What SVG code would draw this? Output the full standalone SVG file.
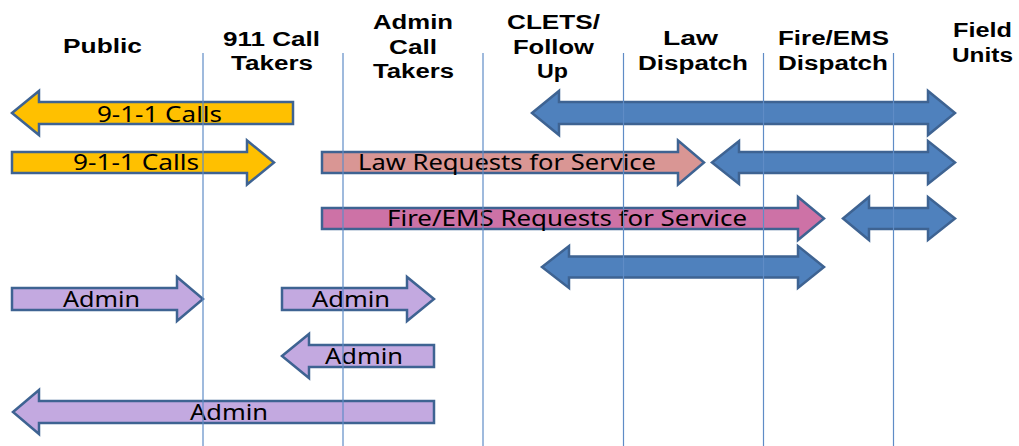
<svg xmlns="http://www.w3.org/2000/svg" width="1019" height="446" viewBox="0 0 1019 446">
<style>
.hdr{font-family:"Liberation Sans",Arial,sans-serif;font-weight:bold;font-size:19.5px;fill:#000;text-anchor:middle}
.lbl{font-family:"Noto Sans","Open Sans",sans-serif;font-size:21px;fill:#000;text-anchor:middle}
.arr{stroke:#3E6392;stroke-width:2.5;stroke-linejoin:miter}
.yel{fill:#FFC000}
.blu{fill:#4F81BD}
.sal{fill:#D99694}
.pnk{fill:#CD72A6}
.lav{fill:#C3A9E0}
.lane{stroke:#5F8CC6;stroke-width:1.2}
</style>
<rect width="1019" height="446" fill="#fff"/>
<g id="headers">
<text class="hdr" x="102.5" y="53" textLength="79" lengthAdjust="spacingAndGlyphs">Public</text>
<text class="hdr" x="271.5" y="46" textLength="97" lengthAdjust="spacingAndGlyphs">911 Call</text>
<text class="hdr" x="272" y="70" textLength="82" lengthAdjust="spacingAndGlyphs">Takers</text>
<text class="hdr" x="413" y="29" textLength="80" lengthAdjust="spacingAndGlyphs">Admin</text>
<text class="hdr" x="413" y="54" textLength="48" lengthAdjust="spacingAndGlyphs">Call</text>
<text class="hdr" x="413.5" y="78" textLength="81" lengthAdjust="spacingAndGlyphs">Takers</text>
<text class="hdr" x="553.5" y="29" textLength="93" lengthAdjust="spacingAndGlyphs">CLETS/</text>
<text class="hdr" x="553.5" y="54" textLength="81" lengthAdjust="spacingAndGlyphs">Follow</text>
<text class="hdr" x="552.5" y="78" textLength="31" lengthAdjust="spacingAndGlyphs">Up</text>
<text class="hdr" x="690.5" y="45" textLength="55" lengthAdjust="spacingAndGlyphs">Law</text>
<text class="hdr" x="693" y="70" textLength="110" lengthAdjust="spacingAndGlyphs">Dispatch</text>
<text class="hdr" x="833.5" y="45" textLength="111" lengthAdjust="spacingAndGlyphs">Fire/EMS</text>
<text class="hdr" x="833" y="70" textLength="110" lengthAdjust="spacingAndGlyphs">Dispatch</text>
<text class="hdr" x="982.5" y="37" textLength="59" lengthAdjust="spacingAndGlyphs">Field</text>
<text class="hdr" x="982.5" y="62" textLength="61" lengthAdjust="spacingAndGlyphs">Units</text>
</g>
<g id="connectors">
<g id="calls-out">
<path class="arr yel" d="M12,113 L39,91 L39,102 L293,102 L293,124 L39,124 L39,135 Z"/>
<text class="lbl" x="159.5" y="122" textLength="125" lengthAdjust="spacingAndGlyphs">9-1-1 Calls</text>
</g>
<path id="clets-field" class="arr blu" d="M532,113 L559,91 L559,102 L928,102 L928,91 L955,113 L928,135 L928,124 L559,124 L559,135 Z"/>
<g id="calls-in">
<path class="arr yel" d="M12,152 L247,152 L247,140.5 L274,162.5 L247,184.5 L247,173 L12,173 Z"/>
<text class="lbl" x="136" y="170" textLength="126" lengthAdjust="spacingAndGlyphs">9-1-1 Calls</text>
</g>
<g id="law-req">
<path class="arr sal" d="M322,152 L678,152 L678,140.5 L704,162.5 L678,184.5 L678,173 L322,173 Z"/>
<text class="lbl" x="507" y="170" textLength="298" lengthAdjust="spacingAndGlyphs">Law Requests for Service</text>
</g>
<path id="law-field" class="arr blu" d="M712,162.5 L739,141 L739,152 L928,152 L928,141 L955,162.5 L928,184 L928,173 L739,173 L739,184 Z"/>
<g id="fire-req">
<path class="arr pnk" d="M322,208 L798,208 L798,197 L824,218.5 L798,240 L798,229 L322,229 Z"/>
<text class="lbl" x="567" y="226" textLength="360" lengthAdjust="spacingAndGlyphs">Fire/EMS Requests for Service</text>
</g>
<path id="fire-field" class="arr blu" d="M843,218.5 L869,197 L869,208 L928,208 L928,197 L955,218.5 L928,240 L928,229 L869,229 L869,240 Z"/>
<path id="clets-fire" class="arr blu" d="M542,267 L569,246 L569,256.5 L798,256.5 L798,246 L824,267 L798,288 L798,277.5 L569,277.5 L569,288 Z"/>
<g id="admin-1">
<path class="arr lav" d="M12,288 L177,288 L177,277 L203,299 L177,321 L177,310 L12,310 Z"/>
<text class="lbl" x="101.5" y="307" textLength="77" lengthAdjust="spacingAndGlyphs">Admin</text>
</g>
<g id="admin-2">
<path class="arr lav" d="M282,288 L407,288 L407,277 L434,299 L407,321 L407,310 L282,310 Z"/>
<text class="lbl" x="351" y="307" textLength="78" lengthAdjust="spacingAndGlyphs">Admin</text>
</g>
<g id="admin-3">
<path class="arr lav" d="M282,356 L309,334 L309,345 L434,345 L434,367 L309,367 L309,378 Z"/>
<text class="lbl" x="364" y="364" textLength="78" lengthAdjust="spacingAndGlyphs">Admin</text>
</g>
<g id="admin-4">
<path class="arr lav" d="M13,412 L39,390 L39,401 L434,401 L434,423 L39,423 L39,434 Z"/>
<text class="lbl" x="229" y="420" textLength="78" lengthAdjust="spacingAndGlyphs">Admin</text>
</g>
</g>
<g id="lanes">
<line class="lane" x1="203" y1="53" x2="203" y2="446"/>
<line class="lane" x1="343" y1="53" x2="343" y2="446"/>
<line class="lane" x1="483" y1="53" x2="483" y2="446"/>
<line class="lane" x1="623.5" y1="53" x2="623.5" y2="446"/>
<line class="lane" x1="763.5" y1="53" x2="763.5" y2="446"/>
<line class="lane" x1="893.5" y1="53" x2="893.5" y2="446"/>
</g>
</svg>
